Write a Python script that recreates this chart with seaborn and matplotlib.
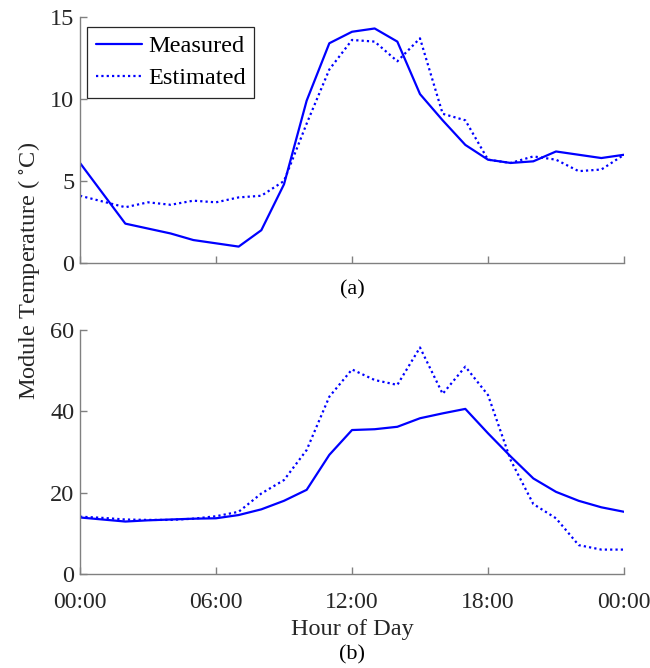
import numpy as np
import pandas as pd
import seaborn as sns
import matplotlib.pyplot as plt

hours = list(range(25))

# (a) module temperature, first day
top_measured = [6.1, 4.25, 2.4, 2.1, 1.8, 1.4, 1.2, 1.0, 2.0, 4.8, 9.9, 13.4, 14.1,
                14.3, 13.5, 10.3, 8.7, 7.2, 6.3, 6.1, 6.2, 6.8, 6.6, 6.4, 6.6]
top_estimated = [4.1, 3.75, 3.4, 3.7, 3.55, 3.8, 3.7, 4.0, 4.1, 5.0, 8.5, 11.8, 13.6,
                 13.5, 12.3, 13.7, 9.1, 8.7, 6.3, 6.1, 6.5, 6.3, 5.6, 5.7, 6.6]

# (b) module temperature, second day
bottom_measured = [13.9, 13.4, 12.9, 13.2, 13.4, 13.6, 13.7, 14.5, 15.9, 18.0, 20.7, 29.3, 35.4,
                   35.6, 36.2, 38.3, 39.5, 40.6, 34.6, 28.9, 23.5, 20.2, 18.0, 16.4, 15.3]
bottom_estimated = [14.1, 13.8, 13.4, 13.3, 13.3, 13.6, 14.2, 15.3, 19.8, 23.1, 30.5, 43.6, 50.3,
                    47.7, 46.5, 55.7, 44.3, 51.0, 44.0, 28.0, 17.2, 13.7, 7.1, 6.0, 6.0]

series = ['Measured', 'Estimated']
xticks = [0, 6, 12, 18, 24]
xtick_labels = ['00:00', '06:00', '12:00', '18:00', '00:00']

sns.set_style('ticks')
plt.rcParams['font.family'] = ['Liberation Serif', 'DejaVu Serif']
plt.rcParams['mathtext.fontset'] = 'stix'
plt.rcParams['font.size'] = 17.5

spine_col = '#808080'
text_col = '#262626'


def make_df(measured, estimated):
    data = []
    for i in range(len(hours)):
        data.append({'Hour': hours[i], 'Temp': measured[i], 'Series': 'Measured'})
    for i in range(len(hours)):
        data.append({'Hour': hours[i], 'Temp': estimated[i], 'Series': 'Estimated'})
    return pd.DataFrame(data)


def style_axes(ax, ylim, yticks):
    ax.set_xlim(0, 24)
    ax.set_ylim(*ylim)
    ax.set_yticks(yticks)
    ax.set_xticks(xticks)
    for s in ['top', 'right']:
        ax.spines[s].set_visible(False)
    for s in ['left', 'bottom']:
        ax.spines[s].set_color(spine_col)
        ax.spines[s].set_linewidth(1.0)
    ax.tick_params(direction='in', length=5, width=1.0, color=spine_col,
                   labelcolor=text_col, labelsize=17.5)
    ax.tick_params(axis='y', pad=4)
    ax.tick_params(axis='x', pad=13, labelsize=17)
    ax.set_xlabel('')
    ax.set_ylabel('')


fig = plt.figure(figsize=(6.5, 6.68), dpi=100)
ax1 = fig.add_axes([80 / 650, 1 - 263 / 668, 544 / 650, 246 / 668])
ax2 = fig.add_axes([80 / 650, 1 - 574 / 668, 544 / 650, 244 / 668])

palette = {'Measured': '#0000ff', 'Estimated': '#0000ff'}
dashes = {'Measured': '', 'Estimated': (1, 1.4)}

sns.lineplot(data=make_df(top_measured, top_estimated), x='Hour', y='Temp', hue='Series',
             style='Series', palette=palette, dashes=dashes, hue_order=series,
             style_order=series, linewidth=1.6, ax=ax1)
sns.lineplot(data=make_df(bottom_measured, bottom_estimated), x='Hour', y='Temp', hue='Series',
             style='Series', palette=palette, dashes=dashes, hue_order=series,
             style_order=series, linewidth=1.6, ax=ax2, legend=False)

style_axes(ax1, (0, 15), [0, 5, 10, 15])
style_axes(ax2, (0, 60), [0, 20, 40, 60])
ax1.set_xticklabels([])
ax2.set_xticklabels(xtick_labels)

handles, labels = ax1.get_legend_handles_labels()
leg = ax1.legend(handles, labels, loc='upper left', bbox_to_anchor=(0.013, 0.96),
                 borderaxespad=0, frameon=True, fancybox=False, handlelength=1.9,
                 handletextpad=0.25, labelspacing=0.4, borderpad=0.35, fontsize=17.5)
leg.get_frame().set_edgecolor(text_col)
leg.get_frame().set_linewidth(0.9)
leg.get_frame().set_alpha(1)
for t in leg.get_texts():
    t.set_color('black')

fig.text(352 / 650, 1 - 290 / 668, '(a)', ha='center', va='center', fontsize=16, color='black')
fig.text(352 / 650, 1 - 630 / 668, 'Hour of Day', ha='center', va='center', fontsize=17.5, color=text_col)
fig.text(352 / 650, 1 - 655 / 668, '(b)', ha='center', va='center', fontsize=16, color='black')
fig.text(29 / 650, 1 - 271 / 668, r'Module Temperature ( $^{\circ}$C)', rotation=90,
         ha='center', va='center', fontsize=17.5, color=text_col)

plt.savefig('out.png', dpi=100)
